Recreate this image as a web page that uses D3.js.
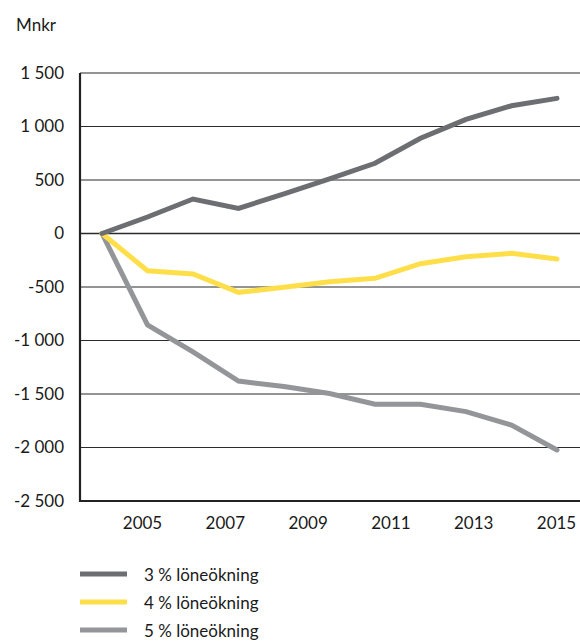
<!DOCTYPE html>
<html>
<head>
<meta charset="utf-8">
<script src="https://cdn.jsdelivr.net/npm/d3@7"></script>
<style>
  body { margin: 0; background: #fff; }
  svg { font-family: Lato, "Open Sans", sans-serif; }
</style>
</head>
<body>
<svg width="580" height="644"></svg>
<script>
"use strict";

// points along the x axis (11 points, first one is the common origin)
const points = [0, 1, 2, 3, 4, 5, 6, 7, 8, 9, 10];
const yearLabels = [2005, 2007, 2009, 2011, 2013, 2015];
const yTicks = [1500, 1000, 500, 0, -500, -1000, -1500, -2000, -2500];

const seriesNames = ["3 % löneökning", "4 % löneökning", "5 % löneökning"];
const s3 = [0, 154, 322, 235, 371, 510, 656, 890, 1067, 1194, 1263];
const s4 = [0, -348, -379, -550, -503, -450, -419, -282, -217, -185, -238];
const s5 = [0, -855, -1107, -1379, -1430, -1495, -1596, -1596, -1665, -1790, -2023];
const colors = ["#6d6e71", "#fedf4a", "#939598"];

window.addEventListener("load", draw);

// "1 500", "-1 000" style labels (plain hyphen, space as thousands separator)
function fmt(d) {
    const a = Math.abs(d);
    const s = a >= 1000 ? Math.floor(a / 1000) + " " + String(a % 1000).padStart(3, "0") : String(a);
    return (d < 0 ? "-" : "") + s;
}

function draw() {
    const svg = d3.select("svg");
    const left = 80, right = 580, top = 73, bottom = 501;

    const x = d3.scaleLinear().domain([0, 10]).range([102, 557]);
    const xLab = d3.scaleLinear().domain([2005, 2015]).range([142, 556]);
    const y = d3.scaleLinear().domain([-2500, 1500]).range([bottom, top]);

    // gridlines
    svg.append("g")
        .selectAll("line")
        .data(yTicks.filter(d => d !== -2500))
        .join("line")
            .attr("x1", left).attr("x2", right)
            .attr("y1", d => y(d)).attr("y2", d => y(d))
            .attr("stroke", "#2b2b2b")
            .attr("stroke-width", d => d === 0 ? 1.6 : 1.1);

    // y labels
    const yAxis = svg.append("g")
        .attr("transform", `translate(${left}, 0)`)
        .call(d3.axisLeft(y).tickValues(yTicks).tickSize(0).tickPadding(16).tickFormat(fmt));
    yAxis.select(".domain").remove();
    yAxis.selectAll("text")
        .attr("font-size", 17)
        .attr("fill", "#1a1a1a")
        .attr("font-family", "Lato, sans-serif");

    // x labels
    const xAxis = svg.append("g")
        .attr("transform", `translate(0, ${bottom})`)
        .call(d3.axisBottom(xLab).tickValues(yearLabels).tickSize(0).tickPadding(16)
            .tickFormat(d3.format("d")));
    xAxis.select(".domain").remove();
    xAxis.selectAll("text")
        .attr("font-size", 17)
        .attr("fill", "#1a1a1a")
        .attr("font-family", "Lato, sans-serif");

    // axis lines
    svg.append("line")
        .attr("x1", left).attr("x2", left).attr("y1", top).attr("y2", bottom + 1)
        .attr("stroke", "#222").attr("stroke-width", 2.2);
    svg.append("line")
        .attr("x1", left - 1).attr("x2", right).attr("y1", bottom).attr("y2", bottom)
        .attr("stroke", "#222").attr("stroke-width", 2.2);

    const line = d3.line()
        .x((d, i) => x(points[i]))
        .y(d => y(d));

    const allSeries = [s5, s4, s3];
    const allColors = [colors[2], colors[1], colors[0]];
    svg.append("g")
        .selectAll("path")
        .data(allSeries)
        .join("path")
            .attr("d", d => line(d))
            .attr("fill", "none")
            .attr("stroke", (d, i) => allColors[i])
            .attr("stroke-width", 5)
            .attr("stroke-linejoin", "miter")
            .attr("stroke-linecap", "round");

    svg.append("text")
        .attr("x", 16).attr("y", 31)
        .attr("font-size", 17)
        .attr("fill", "#1a1a1a")
        .text("Mnkr");

    // legend
    const legend = svg.append("g")
        .selectAll("g")
        .data(seriesNames)
        .join("g")
            .attr("transform", (d, i) => `translate(0, ${574 + i * 28})`);
    legend.append("line")
        .attr("x1", 80).attr("x2", 127)
        .attr("stroke", (d, i) => colors[i])
        .attr("stroke-width", 5);
    legend.append("text")
        .attr("x", 144).attr("y", 0)
        .attr("dominant-baseline", "central")
        .attr("font-size", 17)
        .attr("fill", "#1a1a1a")
        .text(d => d);
}
</script>
</body>
</html>
